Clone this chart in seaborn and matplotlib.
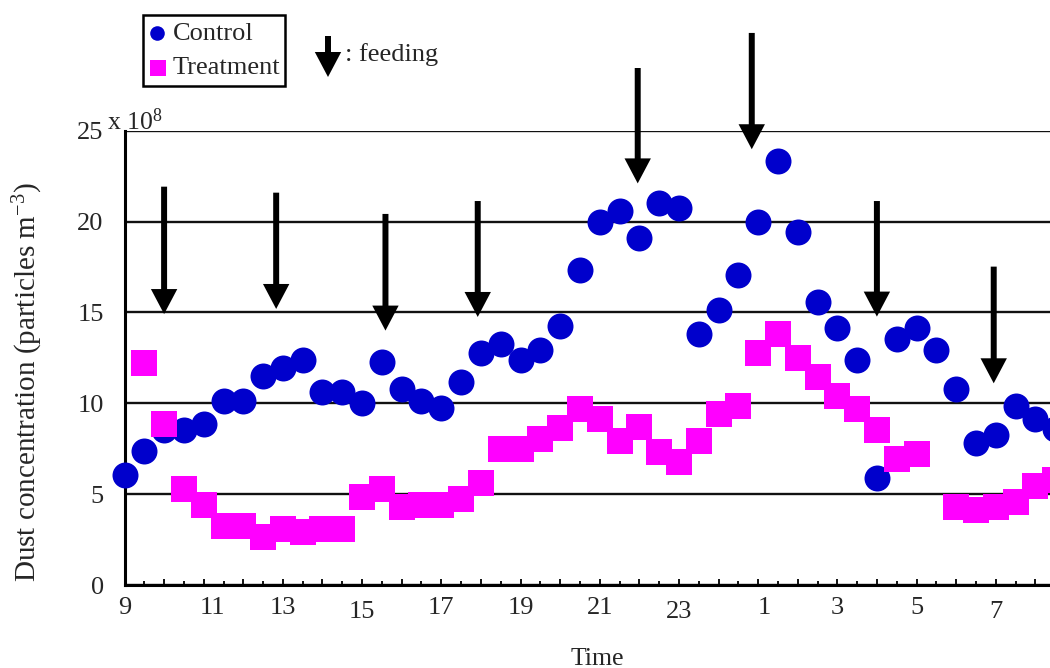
import numpy as np
import pandas as pd
import matplotlib
matplotlib.use("Agg")
import matplotlib.pyplot as plt
import matplotlib.transforms as mtransforms
from matplotlib.lines import Line2D
from matplotlib.patches import Rectangle
import seaborn as sns

# Half-hourly sampling times (clock time), from 09:00 to 08:30 the next morning
times = ["9:00", "9:30", "10:00", "10:30", "11:00", "11:30", "12:00", "12:30",
         "13:00", "13:30", "14:00", "14:30", "15:00", "15:30", "16:00", "16:30",
         "17:00", "17:30", "18:00", "18:30", "19:00", "19:30", "20:00", "20:30",
         "21:00", "21:30", "22:00", "22:30", "23:00", "23:30", "0:00", "0:30",
         "1:00", "1:30", "2:00", "2:30", "3:00", "3:30", "4:00", "4:30",
         "5:00", "5:30", "6:00", "6:30", "7:00", "7:30", "8:00", "8:30"]

# Dust concentration, x 10^8 particles m^-3
control = [6.05, 7.37, 8.53, 8.53, 8.84, 10.14, 10.14, 11.5, 11.93, 12.38,
           10.6, 10.64, 10.03, 12.26, 10.77, 10.14, 9.76, 11.19, 12.79, 13.25,
           12.38, 12.93, 14.27, 17.34, 19.99, 20.58, 19.11, 21.04, 20.73, 13.83,
           15.13, 17.06, 19.99, 23.35, 19.41, 15.59, 14.13, 12.38, 5.9, 13.55,
           14.13, 12.93, 10.77, 7.8, 8.26, 9.87, 9.14, 8.6]
treatment = [np.nan, 12.2, 8.84, 5.28, 4.40, 3.23, 3.23, 2.66, 3.08, 2.93,
             3.06, 3.06, 4.86, 5.28, 4.28, 4.40, 4.40, 4.71, 5.6, 7.47,
             7.47, 8.04, 8.66, 9.7, 9.12, 7.94, 8.68, 7.34, 6.77, 7.94,
             9.41, 9.85, 12.77, 13.81, 12.49, 11.46, 10.42, 9.7, 8.53, 6.91,
             7.22, np.nan, 4.28, 4.15, 4.28, 4.57, 5.47, 5.76]

# Feeding events: time (hours on the running clock) and arrow extent (y units)
feed_hours = [10.0, 12.83, 15.59, 17.92, 21.96, 24.84, 28.0, 30.95]
feed_top = [21.92, 21.59, 20.42, 21.13, 28.45, 30.38, 21.13, 17.52]
feed_tip = [14.91, 15.19, 14.0, 14.75, 22.1, 23.98, 14.77, 11.1]

y_ticks = [0, 5, 10, 15, 20, 25]


def clock_to_hours(t):
    hh, mm = t.split(":")
    h = int(hh) + int(mm) / 60.0
    return h + 24 if h < 9 else h


hours = [clock_to_hours(t) for t in times]
df = pd.DataFrame({"hours": hours, "Control": control, "Treatment": treatment})

sns.set_theme(style="white")
plt.rcParams["font.family"] = ["Liberation Serif", "DejaVu Serif"]
plt.rcParams["mathtext.fontset"] = "custom"
plt.rcParams["mathtext.rm"] = "Liberation Serif"
plt.rcParams["mathtext.it"] = "Liberation Serif:italic"

W, H = 1050, 668
fig = plt.figure(figsize=(W / 100, H / 100), dpi=100)
fig.patch.set_facecolor("white")


def fx(x):
    return x / W


def fy(y):
    return 1 - y / H


x0, x1 = 124.5, 124.5 + 24 * 39.6
ax = fig.add_axes([fx(x0), fy(585), fx(x1) - fx(x0), fy(130.7) - fy(585)])
ax.set_facecolor("white")

BLUE = "#0000CC"
MAGENTA = "#FF00FF"

sns.scatterplot(data=df, x="hours", y="Control", ax=ax, marker="o", s=350,
                color=BLUE, linewidth=0, legend=False, zorder=3)
sns.scatterplot(data=df, x="hours", y="Treatment", ax=ax, marker="s", s=370,
                color=MAGENTA, linewidth=0, legend=False, zorder=4)
for coll in ax.collections:
    coll.set_clip_on(False)

ax.set_xlim(9, 33)
ax.set_ylim(0, 25)

# Hourly ticks (labelled every two hours) and half-hour minor ticks
major = list(range(9, 33))
ax.set_xticks(major)
ax.set_xticklabels([str(h % 24) if (h - 9) % 2 == 0 else "" for h in major])
ax.set_xticks([h + 0.5 for h in range(9, 33)], minor=True)
ax.tick_params(axis="x", which="major", direction="in", length=4.5, width=1.3,
               color="black", labelsize=19, pad=9, bottom=True)
ax.tick_params(axis="x", which="minor", direction="in", length=2.6, width=1.3,
               color="black", bottom=True)
ax.set_yticks(y_ticks)
ax.set_yticklabels([str(v) for v in y_ticks])
ax.tick_params(axis="y", which="major", length=0, labelsize=19, pad=15)

ax.yaxis.grid(True, color="#111111", linewidth=1.7)
ax.xaxis.grid(False)
ax.set_axisbelow(True)
for side in ["top", "right"]:
    ax.spines[side].set_visible(False)
for side in ["left", "bottom"]:
    ax.spines[side].set_color("black")
    ax.spines[side].set_linewidth(2.2)
ax.set_xlabel("")
ax.set_ylabel("")

# Slight offsets of a few hour labels
shifts = {"11": (9, 0), "1": (6, 0), "15": (0, -3), "23": (0, -3), "7": (0, -3)}
for lab in ax.get_xticklabels():
    if lab.get_text() in shifts:
        dx, dy = shifts[lab.get_text()]
        lab.set_transform(lab.get_transform() + mtransforms.ScaledTranslation(
            dx / 100, dy / 100, fig.dpi_scale_trans))

# Feeding arrows
for xh, yt, yb in zip(feed_hours, feed_top, feed_tip):
    ax.annotate("", xy=(xh, yb), xytext=(xh, yt), xycoords="data",
                arrowprops=dict(facecolor="black", edgecolor="black", linewidth=0,
                                width=4.3, headwidth=19, headlength=18, shrink=0),
                annotation_clip=False, zorder=5)

# Axis titles and multiplier
fig.text(fx(597), fy(665), "Time", fontsize=18.5, ha="center", va="baseline")
fig.text(fx(28), fy(382), r"Dust concentration (particles m$^{\mathrm{-3}}$)",
         fontsize=21, rotation=90, ha="center", va="center")
fig.text(fx(107), fy(130), r"x 10$^{8}$", fontsize=18.5, ha="left", va="baseline")

# Legend box
fig.add_artist(Rectangle((fx(142.7), fy(85.7)), fx(285) - fx(142.7), fy(15) - fy(85.7),
                         transform=fig.transFigure, facecolor="white",
                         edgecolor="black", linewidth=1.8))
fig.add_artist(Line2D([fx(156.7)], [fy(33.3)], marker="o", markersize=10.5,
                      color=BLUE, markeredgewidth=0, transform=fig.transFigure))
fig.add_artist(Line2D([fx(157.7)], [fy(68.3)], marker="s", markersize=11.3,
                      color=MAGENTA, markeredgewidth=0, transform=fig.transFigure))
fig.text(fx(173), fy(33.5), "Control", fontsize=19, ha="left", va="center")
fig.text(fx(173), fy(68.5), "Treatment", fontsize=19, ha="left", va="center")

# Feeding key
fig.add_artist(matplotlib.text.Annotation(
    "", xy=(fx(328), fy(77)), xytext=(fx(328), fy(36)),
    xycoords="figure fraction", textcoords="figure fraction",
    arrowprops=dict(facecolor="black", edgecolor="black", linewidth=0,
                    width=4.3, headwidth=19, headlength=18, shrink=0)))
fig.text(fx(345), fy(61), ": feeding", fontsize=19, ha="left", va="baseline")

fig.savefig("out.png", dpi=100, facecolor="white")
